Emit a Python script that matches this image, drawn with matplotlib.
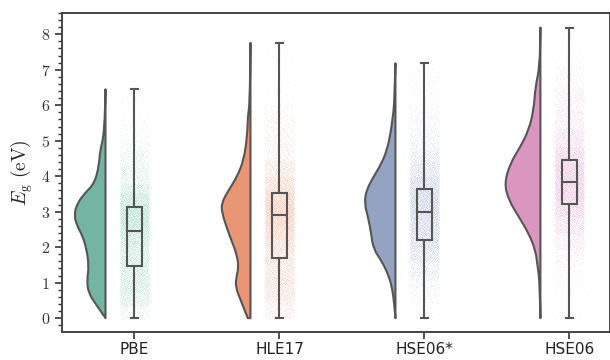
import numpy as np
import matplotlib
matplotlib.use("Agg")
import matplotlib.pyplot as plt
from matplotlib.path import Path
from matplotlib.patches import PathPatch
from matplotlib.ticker import MultipleLocator, FuncFormatter
import seaborn as sns

plt.rcParams['mathtext.fontset'] = 'cm'

# functionals on the x axis
methods = ['PBE', 'HLE17', 'HSE06*', 'HSE06']
palette = ['#66c2a5', '#fc8d62', '#8da0cb', '#e78ac3']

# half-violin outlines: band gap (eV) -> relative density
pbe_y = [0.0, 0.33, 0.70, 1.08, 1.45, 2.02, 2.40, 2.58, 2.91, 3.24, 3.52, 3.80, 4.27, 4.74, 5.02, 5.60, 6.45]
pbe_d = [0.0, 8.0, 17.0, 18.5, 16.5, 19.3, 24.3, 28.0, 31.5, 28.0, 20.7, 11.0, 6.7, 5.3, 2.5, 0.7, 0.0]
hle_y = [0.0, 0.52, 0.89, 1.17, 1.45, 1.83, 2.21, 2.58, 2.96, 3.24, 3.61, 3.99, 4.46, 5.12, 5.68, 6.06, 7.76]
hle_d = [2.7, 10.0, 15.0, 14.0, 11.7, 14.0, 19.3, 24.0, 28.3, 29.0, 21.7, 13.3, 6.7, 3.3, 2.7, 0.7, 0.0]
hsx_y = [0.0, 0.42, 0.80, 1.17, 1.60, 1.95, 2.39, 2.77, 3.24, 3.61, 3.99, 4.37, 4.74, 5.21, 5.68, 5.96, 7.18]
hsx_d = [0.0, 1.3, 3.0, 6.3, 13.5, 22.0, 24.3, 26.7, 31.0, 29.0, 21.7, 13.7, 8.5, 4.8, 2.7, 1.3, 0.0]
hse_y = [0.0, 0.99, 1.45, 1.92, 2.39, 2.86, 3.33, 3.80, 4.37, 4.83, 5.30, 5.87, 6.52, 7.09, 8.19]
hse_d = [0.0, 0.7, 2.7, 5.0, 11.7, 21.7, 31.7, 36.0, 30.0, 20.0, 11.7, 6.7, 5.0, 0.7, 0.0]

# box statistics
whis_lo = [0.0, 0.0, 0.0, 0.0]
q1 = [1.48, 1.70, 2.20, 3.23]
med = [2.46, 2.90, 2.99, 3.84]
q3 = [3.12, 3.54, 3.63, 4.45]
whis_hi = [6.45, 7.76, 7.18, 8.19]

profiles = [(pbe_y, pbe_d), (hle_y, hle_d), (hsx_y, hsx_d), (hse_y, hse_d)]

fig = plt.figure(figsize=(6.1, 3.6), dpi=100)
ax = fig.add_axes([62 / 610, 28 / 360, 548 / 610, 319 / 360])

line_col = '#555555'
dens_scale = 1 / 144.7   # density units -> x units
v_off = 0.2
n_pts = 5000


def halton(n, base):
    # deterministic low-discrepancy sequence for spreading the rain points
    out = np.zeros(n)
    for k in range(n):
        f, r, i = 1.0, 0.0, k + 1
        while i > 0:
            f /= base
            r += f * (i % base)
            i //= base
        out[k] = r
    return out


def smooth_path(xs, ys):
    # quadratic bezier through midpoints, keeps the outline smooth
    pts = np.column_stack([xs, ys])
    verts = [pts[0]]
    codes = [Path.MOVETO]
    for i in range(1, len(pts) - 1):
        mid = (pts[i] + pts[i + 1]) / 2
        verts += [pts[i], mid]
        codes += [Path.CURVE3, Path.CURVE3]
    verts.append(pts[-1])
    codes.append(Path.LINETO)
    return verts, codes


hx = halton(n_pts, 2)
hy = halton(n_pts, 3)

for i, (yv, dv) in enumerate(profiles):
    yv = np.array(yv)
    dv = np.array(dv)
    edge = i - v_off
    xs = edge - dv * dens_scale
    verts, codes = smooth_path(xs, yv)
    # close along the flat edge
    verts += [(edge, yv[-1]), (edge, yv[0]), verts[0]]
    codes += [Path.LINETO, Path.LINETO, Path.CLOSEPOLY]
    fc = sns.desaturate(palette[i], 0.75)
    ax.add_patch(PathPatch(Path(verts, codes), facecolor=fc, edgecolor=line_col,
                           lw=1.5, joinstyle='round', zorder=2))

    # rain: points spread by the read density
    cdf = np.concatenate([[0], np.cumsum((dv[1:] + dv[:-1]) / 2 * np.diff(yv))])
    cdf = cdf / cdf[-1]
    py = np.interp(hy, cdf, yv)
    px = i + (hx - 0.5) * 0.2
    ax.scatter(px, py, s=0.3, color=palette[i], alpha=0.2, lw=0, zorder=1)

stats = [dict(med=med[i], q1=q1[i], q3=q3[i], whislo=whis_lo[i], whishi=whis_hi[i],
              fliers=[]) for i in range(len(methods))]
lp = dict(color=line_col, lw=1.5)
ax.bxp(stats, positions=range(len(methods)), widths=0.1, showfliers=False,
       patch_artist=True, manage_ticks=False,
       boxprops=dict(facecolor='none', edgecolor=line_col, lw=1.5),
       medianprops=lp, whiskerprops=lp, capprops=lp, zorder=3)

ax.set_xlim(-0.5, 3.28)
ax.set_ylim(-0.39, 8.6)
ax.set_xticks(range(len(methods)))
ax.set_xticklabels(methods, fontsize=11)
ax.set_yticks(range(0, 9))
ax.yaxis.set_major_formatter(FuncFormatter(lambda v, p: f'${v:.0f}$'))
ax.yaxis.set_minor_locator(MultipleLocator(0.2))
ax.tick_params(axis='y', labelsize=11.5, length=5, width=1.2, colors='#333333')
ax.tick_params(axis='y', which='minor', length=3, width=1.0, colors='#333333')
ax.tick_params(axis='x', length=5, width=1.2, pad=2.5, colors='#333333', labelcolor='#222222')
ax.set_ylabel(r'$E_\mathrm{g}\ \mathrm{(eV)}$', fontsize=14, color='#222222')
for s in ax.spines.values():
    s.set_color('#444444')
    s.set_linewidth(1.4)

fig.savefig('out.png', dpi=100)
